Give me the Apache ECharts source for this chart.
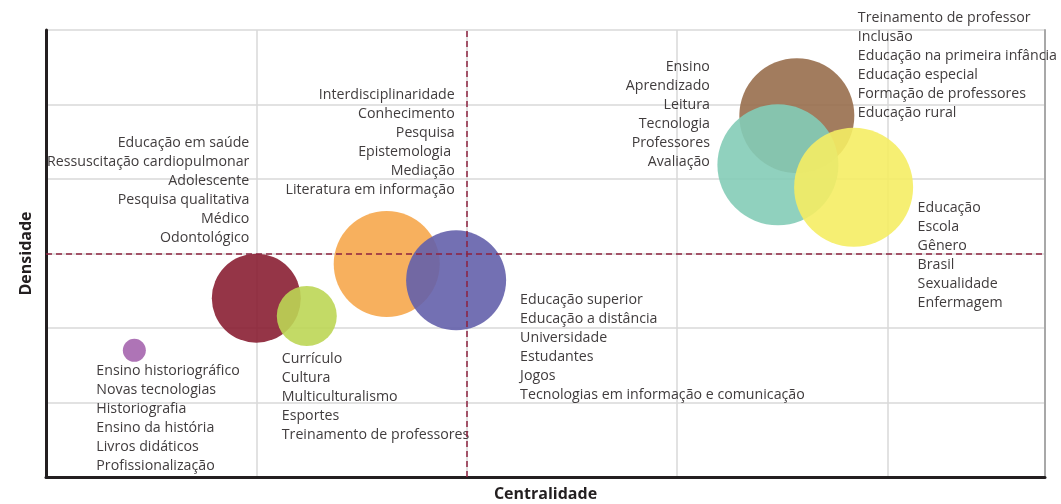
<!DOCTYPE html>
<html>
<head>
<meta charset="utf-8">
<script src="https://cdn.jsdelivr.net/npm/echarts@6/dist/echarts.min.js"></script>
<style>
  html, body { margin: 0; padding: 0; background: #fff; }
  #chart { width: 1061px; height: 504px; }
</style>
</head>
<body>
<div id="chart"></div>
<script>
// cluster positions on the strategic diagram (grid units)
var centrality = [0.42, 1.00, 1.24, 1.62, 1.95, 3.57, 3.48, 3.84];
var density    = [1.70, 2.40, 2.16, 2.86, 2.64, 4.85, 4.19, 3.89];
// bubble weight (drawn as diameter)
var weight     = [23, 89, 60, 106, 100, 115, 121, 119];

var keywords = [
  ['Ensino historiográfico', 'Novas tecnologias', 'Historiografia', 'Ensino da história', 'Livros didáticos', 'Profissionalização'],
  ['Educação em saúde', 'Ressuscitação cardiopulmonar', 'Adolescente', 'Pesquisa qualitativa', 'Médico', 'Odontológico'],
  ['Currículo', 'Cultura', 'Multiculturalismo', 'Esportes', 'Treinamento de professores'],
  ['Interdisciplinaridade', 'Conhecimento', 'Pesquisa', 'Epistemologia ', 'Mediação', 'Literatura em informação'],
  ['Educação superior', 'Educação a distância', 'Universidade', 'Estudantes', 'Jogos', 'Tecnologias em informação e comunicação'],
  ['Treinamento de professor', 'Inclusão', 'Educação na primeira infância', 'Educação especial', 'Formação de professores', 'Educação rural'],
  ['Ensino', 'Aprendizado', 'Leitura', 'Tecnologia', 'Professores', 'Avaliação'],
  ['Educação', 'Escola', 'Gênero', 'Brasil', 'Sexualidade', 'Enfermagem']
];

var centralityMean = 2;
var densityMean = 3;

// styling per cluster
var colors = ['#a565ae', '#8a1f33', '#bdd655', '#f6a74c', '#6460ab', '#986e4c', '#84ccb7', '#f5ed64'];
var labelAlign = ['left', 'right', 'left', 'right', 'left', 'left', 'right', 'left'];
var labelOffset = [[-38, 11], [-7, -165], [-25, 33], [68, -178], [64, 10], [61, -107], [-68, -107], [64, 11]];

var font = '"Open Sans", sans-serif';

var points = centrality.map(function (c, i) {
  return {
    value: [c, density[i], weight[i]],
    itemStyle: { color: colors[i], opacity: 0.9 },
    label: {
      show: true,
      position: 'inside',
      align: labelAlign[i],
      verticalAlign: 'top',
      offset: labelOffset[i],
      formatter: keywords[i].join('\n')
    }
  };
});

var option = {
  animation: false,
  grid: { left: 46, right: 16, top: 30, bottom: 27, outerBoundsMode: 'none', containLabel: false },
  xAxis: {
    type: 'value',
    min: 0,
    max: 4.75,
    interval: 1,
    name: 'Centralidade',
    nameLocation: 'middle',
    nameGap: 9,
    nameTextStyle: { fontFamily: font, fontWeight: 'bold', fontSize: 16, color: '#231f20', verticalAlign: 'top' },
    axisLine: { lineStyle: { color: '#231f20', width: 3 } },
    axisTick: { show: false },
    axisLabel: { show: false },
    splitLine: { lineStyle: { color: '#d9d9d9', width: 1.5 } }
  },
  yAxis: [{
    type: 'value',
    min: 0,
    max: 6,
    interval: 1,
    name: 'Densidade',
    nameLocation: 'middle',
    nameGap: 12,
    nameTextStyle: { fontFamily: font, fontWeight: 'bold', fontSize: 16, color: '#231f20' },
    axisLine: { show: true, lineStyle: { color: '#231f20', width: 3 } },
    axisTick: { show: false },
    axisLabel: { show: false },
    splitLine: { lineStyle: { color: '#d9d9d9', width: 1.5 } }
  }, {
    type: 'value',
    position: 'right',
    min: 0,
    max: 6,
    axisLine: { show: true, lineStyle: { color: '#a8a8a8', width: 2 } },
    axisTick: { show: false },
    axisLabel: { show: false },
    splitLine: { show: false }
  }],
  series: [{
    type: 'scatter',
    data: points,
    symbolSize: function (v) { return v[2]; },
    emphasis: { disabled: true },
    label: {
      fontFamily: font,
      fontSize: 14.2,
      lineHeight: 19,
      color: '#2b2728'
    },
    markLine: {
      silent: true,
      symbol: 'none',
      label: { show: false },
      lineStyle: { color: '#8e2340', type: [6, 4], width: 1.5 },
      data: [{ xAxis: centralityMean }, { yAxis: densityMean }]
    }
  }]
};

var chart = echarts.init(document.getElementById('chart'));
chart.setOption(option);
</script>
</body>
</html>
